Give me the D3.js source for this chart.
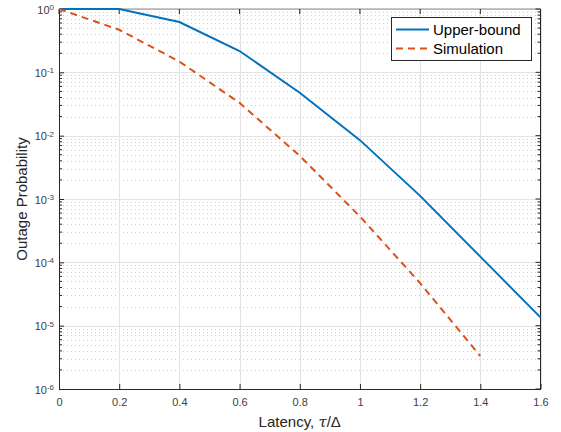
<!DOCTYPE html>
<html>
<head>
<meta charset="utf-8">
<script src="https://cdn.jsdelivr.net/npm/d3@7"></script>
<style>
  html, body { margin: 0; padding: 0; background: #fff; }
  svg { display: block; font-family: "Liberation Sans", Arial, Helvetica, sans-serif; }
</style>
</head>
<body>
<svg id="chart" width="561" height="432"></svg>
<script>
// ---- data ----
const xUpper = [0, 0.2, 0.4, 0.6, 0.8, 1.0, 1.2, 1.4, 1.6];
const upperBound = [1, 1, 0.623, 0.217, 0.0477, 0.0085, 0.00112, 1.23e-4, 1.35e-5];
const xSim = [0, 0.2, 0.4, 0.6, 0.8, 1.0, 1.2, 1.4];
const simulation = [1, 0.47, 0.148, 0.033, 0.0048, 5.3e-4, 4.7e-5, 3.3e-6];
const xTicks = [0, 0.2, 0.4, 0.6, 0.8, 1, 1.2, 1.4, 1.6];
const xTickLabels = ["0", "0.2", "0.4", "0.6", "0.8", "1", "1.2", "1.4", "1.6"];
const yExponents = [0, -1, -2, -3, -4, -5, -6];
const seriesNames = ["Upper-bound", "Simulation"];
const seriesColors = ["#0072BD", "#D95319"];

// ---- layout ----
const L = 59, R = 540.5, T = 9, B = 389;
const svg = d3.select("#chart");
const x = d3.scaleLinear().domain([0, 1.6]).range([L, R]);
const y = d3.scaleLog().domain([1e-6, 1]).range([B, T]);

const majorY = yExponents.map(e => Math.pow(10, e));
const minorY = [];
for (let e = -6; e < 0; e++) for (let m = 2; m <= 9; m++) minorY.push(m * Math.pow(10, e));

const axisColor = "#262626";
const labelColor = "#404040";

// minor grid (dotted)
svg.append("g").selectAll("line").data(minorY).join("line")
  .attr("x1", L).attr("x2", R)
  .attr("y1", d => Math.round(y(d)) + 0.5).attr("y2", d => Math.round(y(d)) + 0.5)
  .attr("stroke", "#cfcfcf").attr("stroke-width", 1)
  .attr("stroke-dasharray", "1,3");

// major grid
svg.append("g").selectAll("line").data(majorY).join("line")
  .attr("x1", L).attr("x2", R)
  .attr("y1", d => Math.round(y(d)) + 0.5).attr("y2", d => Math.round(y(d)) + 0.5)
  .attr("stroke", "#e3e3e3").attr("stroke-width", 1);
svg.append("g").selectAll("line").data(xTicks).join("line")
  .attr("y1", T).attr("y2", B)
  .attr("x1", d => Math.round(x(d)) + 0.5).attr("x2", d => Math.round(x(d)) + 0.5)
  .attr("stroke", "#e3e3e3").attr("stroke-width", 1);

// box lines & ticks
const box = svg.append("g").attr("stroke", axisColor).attr("stroke-width", 1);
box.append("line").attr("x1", L).attr("x2", R).attr("y1", T).attr("y2", T).attr("stroke", "#8a8a8a");
box.append("line").attr("x1", R).attr("x2", R).attr("y1", T).attr("y2", B);

// bottom axis
const xAxis = d3.axisBottom(x).tickValues(xTicks)
  .tickFormat((d, i) => xTickLabels[i]).tickSizeInner(-5).tickSizeOuter(0).tickPadding(9);
const gx = svg.append("g").attr("transform", `translate(0,${B})`).call(xAxis);
gx.select(".domain").attr("stroke", axisColor);
gx.selectAll(".tick line").attr("stroke", axisColor);
gx.selectAll("text").attr("fill", labelColor).style("font-size", "11px");

// top ticks
svg.append("g").selectAll("line").data(xTicks).join("line")
  .attr("x1", d => x(d)).attr("x2", d => x(d))
  .attr("y1", T).attr("y2", T + 5).attr("stroke", axisColor);

// left axis
const yAxis = d3.axisLeft(y).tickValues(majorY).tickFormat("").tickSizeInner(-5).tickSizeOuter(0);
const gy = svg.append("g").attr("transform", `translate(${L},0)`).call(yAxis);
gy.select(".domain").attr("stroke", axisColor);
gy.selectAll(".tick line").attr("stroke", axisColor);
gy.selectAll(".tick").each(function(d, i) {
  const t = d3.select(this).append("text")
    .attr("fill", labelColor).attr("text-anchor", "end")
    .attr("x", -5).attr("dy", "0.38em").style("font-size", "11px");
  t.append("tspan").text("10");
  t.append("tspan").attr("dy", "-0.45em").style("font-size", "8px").text(String(yExponents[i]));
});
// minor ticks left & right, major ticks right
svg.append("g").selectAll("line").data(minorY).join("line")
  .attr("x1", L).attr("x2", L + 3)
  .attr("y1", d => y(d)).attr("y2", d => y(d)).attr("stroke", axisColor);
svg.append("g").selectAll("line").data(minorY).join("line")
  .attr("x1", R - 3).attr("x2", R)
  .attr("y1", d => y(d)).attr("y2", d => y(d)).attr("stroke", axisColor);
svg.append("g").selectAll("line").data(majorY).join("line")
  .attr("x1", R - 5).attr("x2", R)
  .attr("y1", d => y(d)).attr("y2", d => y(d)).attr("stroke", axisColor);

// series
const line = d3.line().x(d => x(d[0])).y(d => y(d[1]));
svg.append("path").datum(xUpper.map((v, i) => [v, upperBound[i]]))
  .attr("d", line).attr("fill", "none")
  .attr("stroke", seriesColors[0]).attr("stroke-width", 2);
svg.append("path").datum(xSim.map((v, i) => [v, simulation[i]]))
  .attr("d", line).attr("fill", "none")
  .attr("stroke", seriesColors[1]).attr("stroke-width", 2)
  .attr("stroke-dasharray", "7,5");

// axis labels
svg.append("text").attr("x", (L + R) / 2).attr("y", 427)
  .attr("text-anchor", "middle").attr("fill", axisColor).style("font-size", "15px")
  .call(t => {
    t.append("tspan").text("Latency, ");
    t.append("tspan").style("font-style", "italic").style("font-family", "'DejaVu Serif', serif").text("τ");
    t.append("tspan").text("/Δ");
  });
svg.append("text").attr("transform", `translate(27,${(T + B) / 2}) rotate(-90)`)
  .attr("text-anchor", "middle").attr("fill", axisColor).style("font-size", "15px")
  .text("Outage Probability");

// legend
const lg = svg.append("g");
lg.append("rect").attr("x", 391.5).attr("y", 17.5).attr("width", 140).attr("height", 43)
  .attr("fill", "#fff").attr("stroke", axisColor).attr("stroke-width", 1);
seriesNames.forEach((name, i) => {
  const yy = 29.5 + i * 19;
  lg.append("line").attr("x1", 396).attr("x2", 429).attr("y1", yy).attr("y2", yy)
    .attr("stroke", seriesColors[i]).attr("stroke-width", 2)
    .attr("stroke-dasharray", i === 1 ? "7,5" : null);
  lg.append("text").attr("x", 433).attr("y", yy).attr("dy", "0.35em")
    .attr("fill", "#000").style("font-size", "15px").text(name);
});
</script>
</body>
</html>
